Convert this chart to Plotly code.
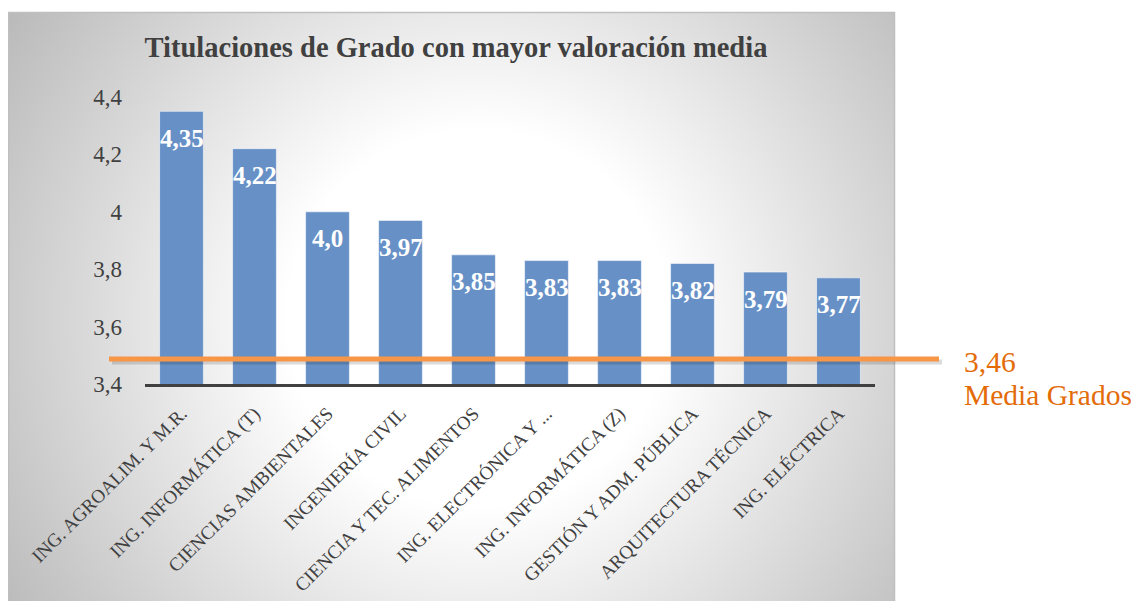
import base64
import plotly.graph_objects as go

# ---------------- data ----------------
categorias = [
    "ING. AGROALIM. Y M.R.",
    "ING. INFORMÁTICA (T)",
    "CIENCIAS AMBIENTALES",
    "INGENIERÍA CIVIL",
    "CIENCIA Y TEC. ALIMENTOS",
    "ING. ELECTRÓNICA Y ...",
    "ING. INFORMÁTICA (Z)",
    "GESTIÓN Y ADM. PÚBLICA",
    "ARQUITECTURA TÉCNICA",
    "ING. ELÉCTRICA",
]
valores = [4.35, 4.22, 4.0, 3.97, 3.85, 3.83, 3.83, 3.82, 3.79, 3.77]
media_grados = 3.46          # value printed in the label
media_linea_y = 3.487        # where the reference draws the mean line
y_ticks = [3.4, 3.6, 3.8, 4.0, 4.2, 4.4]
y_ticktext = ["3,4", "3,6", "3,8", "4", "4,2", "4,4"]
titulo = "Titulaciones de Grado con mayor valoración media"
texto_media = "Media Grados"

FONT = "Liberation Serif"
GRIS = "#404040"
AZUL = "#6791c6"
NARANJA_LINEA = "#f79646"
NARANJA_TEXTO = "#e36c09"

# the page body adds an 8px margin all round: keep the page within the 1139x609 window
OFF = 8
FW, FH = 1139 - OFF, 609 - 2 * OFF


def fmt(v):
    return str(v).replace(".", ",")


# ---------------- background gradient (image) ----------------
W, H = 887, 596
svg = (
    f'<svg xmlns="http://www.w3.org/2000/svg" width="{W}" height="{H}" '
    f'viewBox="0 0 {W} {H}" preserveAspectRatio="none">'
    '<defs><radialGradient id="g" gradientUnits="userSpaceOnUse" cx="470" cy="310" r="560">'
    '<stop offset="0" stop-color="#ffffff"/>'
    '<stop offset="0.34" stop-color="#ffffff"/>'
    '<stop offset="1" stop-color="#bababa"/>'
    '</radialGradient></defs>'
    f'<rect x="0" y="0" width="{W}" height="{H}" fill="url(#g)"/>'
    '</svg>'
)
bg_src = "data:image/svg+xml;base64," + base64.b64encode(svg.encode()).decode()

fig = go.Figure()
fig.add_trace(
    go.Bar(
        x=categorias,
        y=valores,
        marker=dict(color=AZUL, line=dict(color="rgba(255,255,255,0.55)", width=1)),
        hoverinfo="x+y",
        showlegend=False,
    )
)

# data labels inside the bars
for c, v in zip(categorias, valores):
    fig.add_annotation(
        x=c, y=v, xref="x", yref="y", text=f"<b>{fmt(v)}</b>",
        showarrow=False, yshift=-27, yanchor="middle",
        font=dict(family=FONT, size=25, color="white"),
    )

# plot area in window pixels: x 145..875, y 97..384
PX0, PX1, PY0, PY1 = 145, 875, 97, 384
L, R = PX0 - OFF, (OFF + FW) - PX1
T, B = PY0 - OFF, (OFF + FH) - PY1
pw, ph = PX1 - PX0, PY1 - PY0


def px_x(p):
    return (p - PX0) / pw


def px_y(p):
    return (PY1 - p) / ph


BOX_BOTTOM = OFF + FH  # window bottom of the figure canvas

# background panel
fig.add_layout_image(
    source=bg_src, xref="paper", yref="paper",
    x=px_x(8), y=px_y(12), sizex=px_x(895) - px_x(8), sizey=px_y(12) - px_y(BOX_BOTTOM),
    xanchor="left", yanchor="top", sizing="stretch", layer="below",
)
fig.add_shape(
    type="rect", xref="paper", yref="paper",
    x0=px_x(8.5), x1=px_x(894.5), y0=px_y(BOX_BOTTOM + 2), y1=px_y(12.5),
    line=dict(color="#bfbfbf", width=1.5), fillcolor="rgba(0,0,0,0)", layer="below",
)

# mean line with a soft shadow
fig.add_shape(
    type="line", xref="paper", yref="y", ysizemode="pixel", yanchor=media_linea_y,
    x0=px_x(112), x1=px_x(942), y0=-3, y1=-3,
    line=dict(color="rgba(0,0,0,0.14)", width=5),
)
fig.add_shape(
    type="line", xref="paper", yref="y",
    x0=px_x(109), x1=px_x(939), y0=media_linea_y, y1=media_linea_y,
    line=dict(color=NARANJA_LINEA, width=5),
)

fig.add_annotation(
    xref="paper", yref="paper", x=px_x(962), y=px_y(362), xanchor="left", yanchor="middle",
    text=fmt(media_grados), showarrow=False,
    font=dict(family=FONT, size=29.5, color=NARANJA_TEXTO),
)
fig.add_annotation(
    xref="paper", yref="paper", x=px_x(962), y=px_y(395), xanchor="left", yanchor="middle",
    text=texto_media, showarrow=False,
    font=dict(family=FONT, size=29.5, color=NARANJA_TEXTO),
)

fig.update_layout(
    width=FW, height=FH,
    margin=dict(l=L, r=R, t=T, b=B, autoexpand=False),
    paper_bgcolor="white",
    plot_bgcolor="rgba(0,0,0,0)",
    bargap=0.4,
    title=dict(
        text=f"<b>{titulo}</b>", xref="container", yref="container",
        x=(456 - OFF) / FW, y=1 - (47 - OFF) / FH, xanchor="center", yanchor="middle",
        font=dict(family=FONT, size=28.5, color=GRIS),
    ),
    xaxis=dict(
        automargin=False,
        showgrid=False, showline=True, linecolor=GRIS, linewidth=3,
        tickangle=-45, ticks="", ticklabelstandoff=8,
        tickfont=dict(family=FONT, size=19, color=GRIS),
        zeroline=False,
    ),
    yaxis=dict(
        automargin=False,
        range=[3.4, 4.4], showgrid=False, showline=False, zeroline=False,
        tickvals=y_ticks, ticktext=y_ticktext, ticks="", ticklabelstandoff=22,
        tickfont=dict(family=FONT, size=23, color=GRIS),
    ),
)

fig.write_html("out.html")
